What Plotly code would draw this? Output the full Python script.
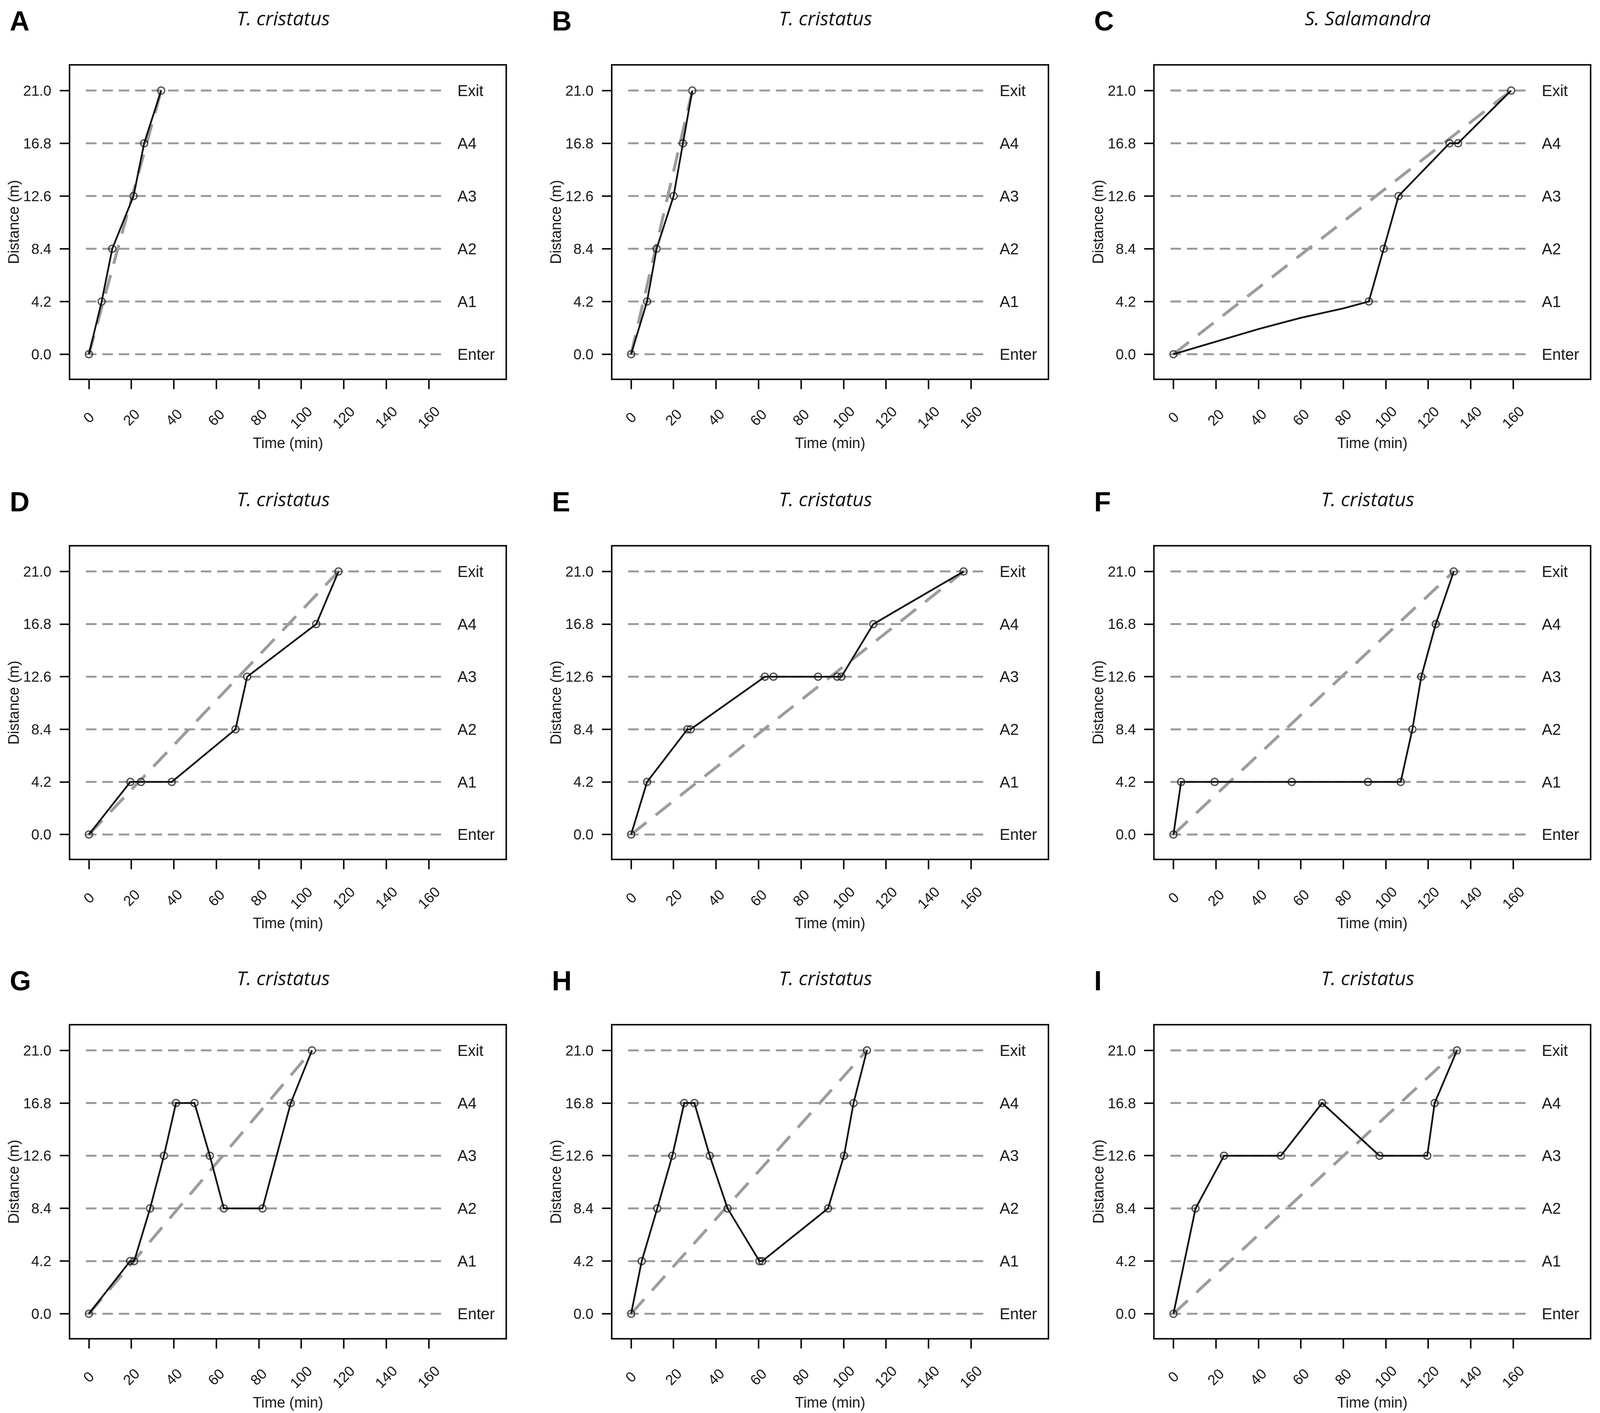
import plotly.graph_objects as go

# gates along the 21 m tunnel
gate_dist = [0.0, 4.2, 8.4, 12.6, 16.8, 21.0]
gate_labels = ["Enter", "A1", "A2", "A3", "A4", "Exit"]
dist_ticktext = ["0.0", "4.2", "8.4", "12.6", "16.8", "21.0"]
time_ticks = [0, 20, 40, 60, 80, 100, 120, 140, 160]

panel_letters = ["A", "B", "C", "D", "E", "F", "G", "H", "I"]
species = ["T. cristatus", "T. cristatus", "S. Salamandra",
           "T. cristatus", "T. cristatus", "T. cristatus",
           "T. cristatus", "T. cristatus", "T. cristatus"]

# time (min) and distance (m) of each track; marked = recorded at a gate
time_a = [0, 6, 11, 21, 26, 34]
dist_a = [0, 4.2, 8.4, 12.6, 16.8, 21]

time_b = [0, 7.5, 12, 20, 24.4, 28.8]
dist_b = [0, 4.2, 8.4, 12.6, 16.8, 21]

time_c = [0, 20, 40, 60, 80, 92, 99, 106, 130, 134, 159]
dist_c = [0, 1.0, 2.0, 2.9, 3.65, 4.2, 8.4, 12.6, 16.8, 16.8, 21]
marked_c = [1, 0, 0, 0, 0, 1, 1, 1, 1, 1, 1]

time_d = [0, 19.5, 24.5, 39, 69, 74.5, 107, 117.5]
dist_d = [0, 4.2, 4.2, 4.2, 8.4, 12.6, 16.8, 21]

time_e = [0, 7.5, 26.5, 28, 63, 67, 88, 97, 99, 114, 156.5]
dist_e = [0, 4.2, 8.4, 8.4, 12.6, 12.6, 12.6, 12.6, 12.6, 16.8, 21]

time_f = [0, 3.6, 19.4, 55.7, 91.6, 107, 112.5, 116.7, 123.5, 132]
dist_f = [0, 4.2, 4.2, 4.2, 4.2, 4.2, 8.4, 12.6, 16.8, 21]

time_g = [0, 19.4, 21.3, 28.8, 35.3, 41, 49.7, 56.9, 63.5, 81.7, 95, 105]
dist_g = [0, 4.2, 4.2, 8.4, 12.6, 16.8, 16.8, 12.6, 8.4, 8.4, 16.8, 21]

time_h = [0, 5, 12.3, 19.4, 25, 29.8, 37, 45.4, 60.4, 61.7, 92.7, 100.2, 104.7, 111]
dist_h = [0, 4.2, 8.4, 12.6, 16.8, 16.8, 12.6, 8.4, 4.2, 4.2, 8.4, 12.6, 16.8, 21]

time_i = [0, 10.4, 23.8, 50.6, 70, 97, 119.5, 123, 133.5]
dist_i = [0, 8.4, 12.6, 12.6, 16.8, 12.6, 12.6, 16.8, 21]

tracks = [
    (time_a, dist_a, None), (time_b, dist_b, None), (time_c, dist_c, marked_c),
    (time_d, dist_d, None), (time_e, dist_e, None), (time_f, dist_f, None),
    (time_g, dist_g, None), (time_h, dist_h, None), (time_i, dist_i, None),
]

H = 3617
col_dom = [(0.0421, 0.3151), (0.3823, 0.6553), (0.7226, 0.9955)]
row_dom = [(0.7344, 0.9559), (0.3945, 0.6155), (0.0553, 0.2766)]

FONT = "Liberation Sans"
fig = go.Figure()
annotations = []

for k in range(9):
    r, c = divmod(k, 3)
    n = "" if k == 0 else str(k + 1)
    xa, ya = "x" + n, "y" + n
    t, d, marked = tracks[k]

    # gate lines
    for g in gate_dist:
        fig.add_trace(go.Scatter(x=[-1.4, 167.7], y=[g, g], mode="lines",
                                 line=dict(color="#9a9a9a", width=5, dash="27px,15px"),
                                 xaxis=xa, yaxis=ya, hoverinfo="skip"))
    # constant-speed reference
    fig.add_trace(go.Scatter(x=[t[0], t[-1]], y=[d[0], d[-1]], mode="lines",
                             line=dict(color="#9c9c9c", width=7.5, dash="50px,30px"),
                             xaxis=xa, yaxis=ya, hoverinfo="skip"))
    # observed track
    sizes = [18 if (marked is None or m) else 0 for m in (marked or t)]
    fig.add_trace(go.Scatter(x=t, y=d, mode="lines+markers",
                             line=dict(color="#111111", width=4.5),
                             marker=dict(symbol="circle-open", size=sizes, color="#111111",
                                         line=dict(width=3.5)),
                             xaxis=xa, yaxis=ya))

    fig.layout["xaxis" + n] = dict(
        domain=col_dom[c], anchor=ya, range=[-8.8, 196], tickvals=time_ticks,
        showticklabels=False, ticks="outside", ticklen=23, tickwidth=3.5, tickcolor="#111",
        showline=True, linewidth=4, linecolor="#111", mirror=True,
        showgrid=False, zeroline=False, automargin=False)
    fig.layout["yaxis" + n] = dict(
        domain=row_dom[r], anchor=xa, range=[-1.93, 23.0], tickvals=gate_dist,
        ticktext=dist_ticktext, ticks="outside", ticklen=23, tickwidth=3.5, tickcolor="#111",
        ticklabelstandoff=14,
        tickfont=dict(family=FONT, size=37, color="#1a1a1a"),
        showline=True, linewidth=4, linecolor="#111", mirror=True,
        showgrid=False, zeroline=False, automargin=False)

    dx, dy = xa + " domain", ya + " domain"
    left = col_dom[c][0]
    # rotated time tick labels
    for tv in time_ticks:
        annotations.append(dict(x=tv, y=0, xref=xa, yref=dy, yshift=-100, text=str(tv),
                                textangle=-45, showarrow=False, xanchor="center", yanchor="middle",
                                font=dict(family=FONT, size=37, color="#1a1a1a")))
    # gate labels
    for g, lab in zip(gate_dist, gate_labels):
        annotations.append(dict(x=173, y=g, xref=xa, yref=ya, text=lab, showarrow=False,
                                xanchor="left", yanchor="middle",
                                font=dict(family=FONT, size=40, color="#1a1a1a")))
    annotations.append(dict(x=0.5, y=0, xref=dx, yref=dy, yshift=-165, text="Time (min)",
                            showarrow=False, xanchor="center", yanchor="middle",
                            font=dict(family=FONT, size=38, color="#1a1a1a")))
    annotations.append(dict(x=left - 0.0355, y=0.5, xref="paper", yref=dy,
                            text="Distance (m)", textangle=-90, showarrow=False,
                            xanchor="center", yanchor="middle",
                            font=dict(family=FONT, size=38, color="#1a1a1a")))
    annotations.append(dict(x=0.49, y=1, xref=dx, yref=dy, yshift=122,
                            text="<i>" + species[k] + "</i>", showarrow=False,
                            xanchor="center", yanchor="middle",
                            font=dict(family="Open Sans", size=50, color="#111")))
    annotations.append(dict(x=left - 0.0385, y=1, xref="paper", yref=dy, yshift=114,
                            text="<b>" + panel_letters[k] + "</b>", showarrow=False,
                            xanchor="left", yanchor="middle",
                            font=dict(family=FONT, size=70, color="#000")))

# width follows the page so that the whole grid stays in view
fig.update_layout(autosize=True, height=H, margin=dict(l=0, r=0, t=0, b=0),
                  paper_bgcolor="white", plot_bgcolor="white", showlegend=False,
                  annotations=annotations)

fig.write_html("out.html")
